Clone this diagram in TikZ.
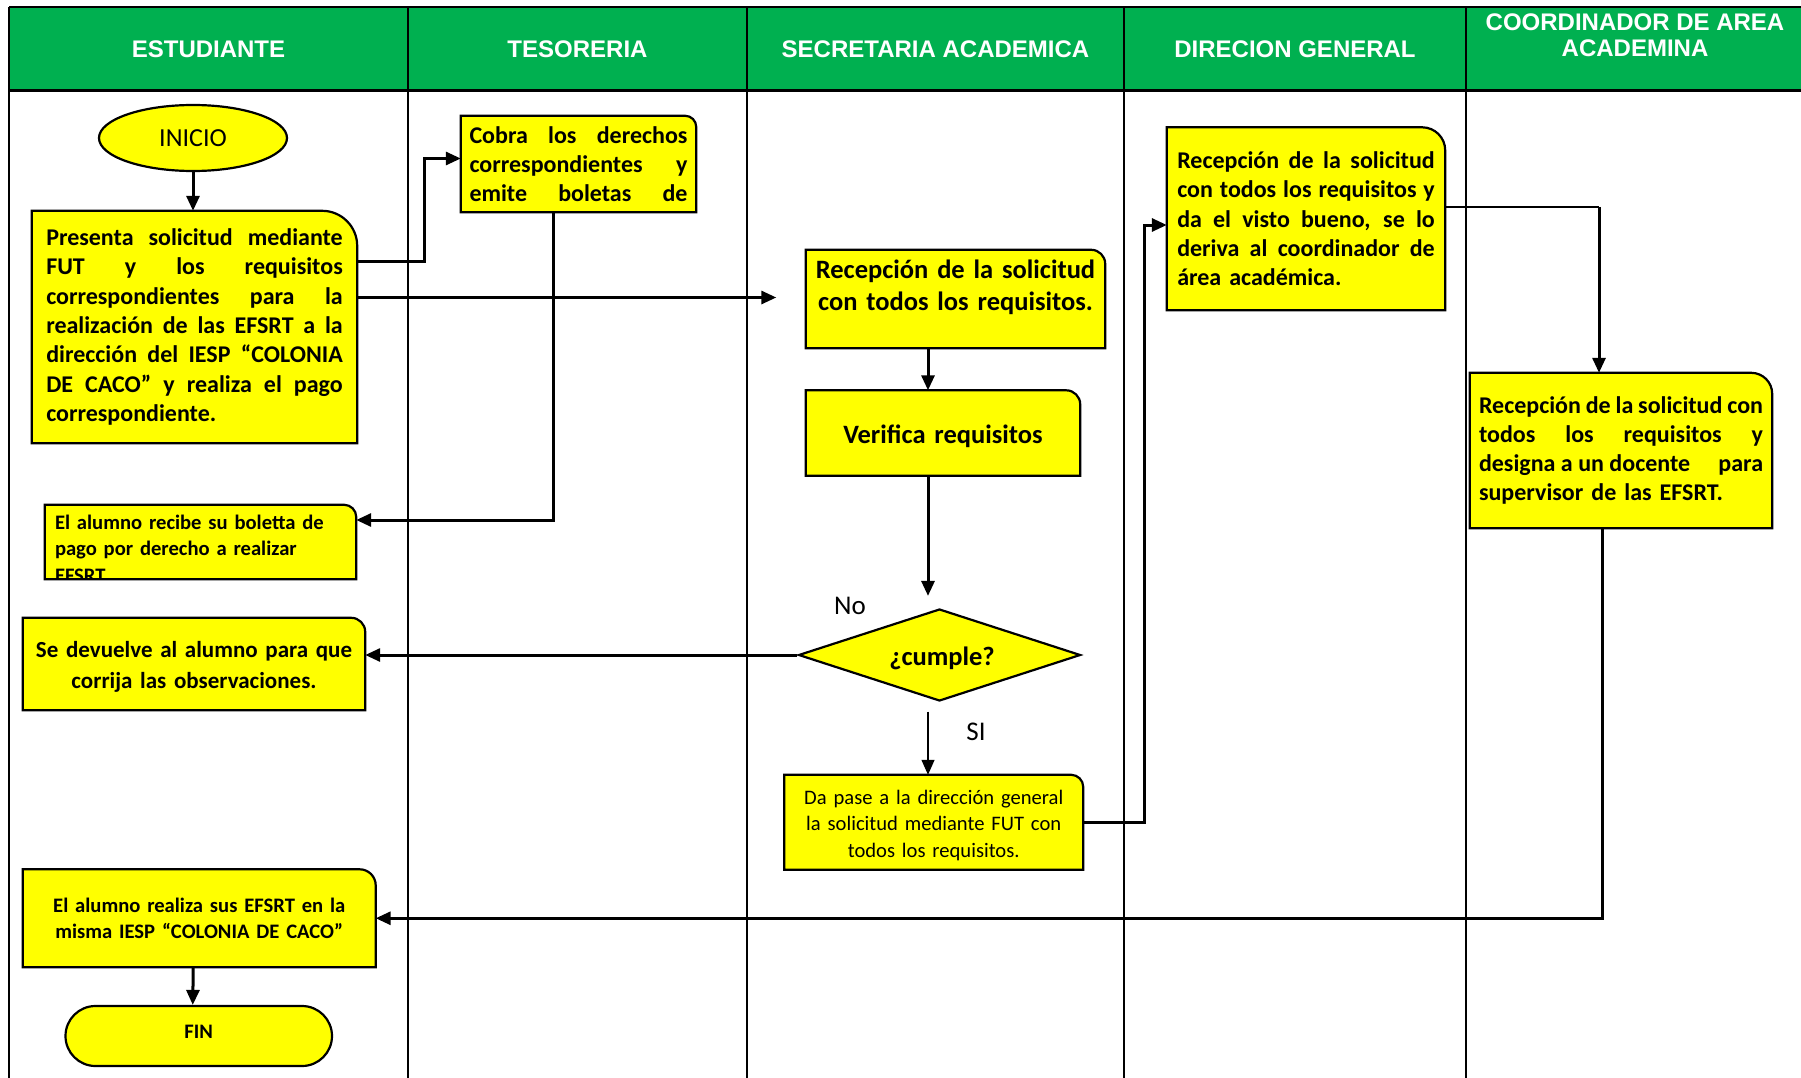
\documentclass[tikz,border=0pt]{standalone}
\usepackage{fontspec}
\setmainfont{Carlito}
\newfontfamily\headfont{Liberation Sans}
\usetikzlibrary{arrows.meta,shapes.geometric,shapes.misc,calc}
\pgfdeclarelayer{bg}
\pgfsetlayers{bg,main}
\setlength\parindent{0pt}
\definecolor{lanegreen}{HTML}{00B050}
\definecolor{boxyellow}{HTML}{FFFF00}
% one line of a justified paragraph, spread to the full text width
\newcommand\jline[1]{{\spaceskip=0.226em plus 1fil minus 0.15em\makebox[\hsize][s]{#1}}}
% move text up or down without changing the size of its box
\newcommand\nudge[2]{\raisebox{#1}[\height][\depth]{#2}}

\begin{document}
\begin{tikzpicture}[x=1pt,y=-1pt,
  lane/.style={line width=1.5pt},
  headtxt/.style={font=\headfont\bfseries\fontsize{24}{26}\selectfont,text=white,align=center},
  box/.style={inner xsep=9pt,inner ysep=0pt},
  just/.style={box,align=left},
  ctr/.style={box,align=center},
  bold24/.style={font=\bfseries\fontsize{24}{29.3}\selectfont},
  bold26/.style={font=\bfseries\fontsize{26.5}{32}\selectfont},
  bold21/.style={font=\bfseries\fontsize{20.6}{26.5}\selectfont},
  reg21/.style={font=\fontsize{20.6}{26.5}\selectfont},
  outline/.style={draw=black,line width=2.2pt,fill=boxyellow},
  term/.style={outline,inner sep=0pt},
  conn/.style={line width=3pt,-{Triangle[length=15pt,width=13pt]}},
  thinconn/.style={line width=1.3pt,-{Triangle[length=15pt,width=13pt]}},
  branch/.style={font=\fontsize{27}{32}\selectfont},
]
\useasboundingbox (0,0) rectangle (1801,1078);

% swimlane frame and header band
\begin{pgfonlayer}{bg}
  \fill[lanegreen] (9,7) rectangle (1801,91);
  \draw[lane] (9,7) -- (1801,7);
  \draw[line width=3pt] (9,91) -- (1801,91);
  \foreach \lx in {9,408,747,1124,1466} \draw[lane] (\lx,7) -- (\lx,1078);
\end{pgfonlayer}

\node[headtxt] (hest) at (208.5,49) {ESTUDIANTE};
\node[headtxt] (htes) at (577.5,49) {TESORERIA};
\node[headtxt] (hsec) at (935.5,49) {SECRETARIA ACADEMICA};
\node[headtxt] (hdir) at (1295,49) {DIRECION GENERAL};
\node[headtxt] (hcoo) at (1635,35) {COORDINADOR DE AREA\\ACADEMINA};

% ESTUDIANTE lane
\node[term,ellipse,minimum width=188pt,minimum height=66pt,
      font=\fontsize{26}{30}\selectfont] (inicio) at (193,138) {INICIO};

\node[just,bold24,text width=296.5pt,minimum width=325pt,minimum height=232pt] (pres) at (194.5,327)
  {\jline{Presenta solicitud mediante}\\
   \jline{FUT y los requisitos}\\
   \jline{correspondientes para la}\\
   \jline{realización de las EFSRT a la}\\
   \jline{dirección del IESP “COLONIA}\\
   \jline{DE CACO” y realiza el pago}\\
   correspondiente.};

\node[box,minimum width=311pt,minimum height=74pt] (recibe) at (200.5,542) {};

\node[ctr,inner xsep=0pt,font=\bfseries\fontsize{23}{31}\selectfont,text width=340pt,
      minimum width=342pt,minimum height=92pt] (devuelve) at (194,664)
  {\nudge{-3pt}{Se devuelve al alumno para que}\\\nudge{-3pt}{corrija las observaciones.}};

\node[ctr,bold21,text width=334pt,minimum width=352.5pt,minimum height=97.5pt] (realiza) at (199.25,918.25)
  {El alumno realiza sus EFSRT en la\\misma IESP “COLONIA DE CACO”};

\node[term,rounded rectangle,minimum width=266.5pt,minimum height=60pt,bold21] (fin) at (198.75,1036)
  {\nudge{4pt}{FIN}};

% TESORERIA lane
\node[just,bold24,inner xsep=8pt,text width=218pt,minimum width=235pt,minimum height=96pt] (cobra) at (578.5,164)
  {\jline{Cobra los derechos}\\
   \jline{correspondientes y}\\
   \jline{emite boletas de}};

% SECRETARIA ACADEMICA lane
\node[box,minimum width=299pt,minimum height=98pt] (recep) at (955.5,299) {};
\node[ctr,bold26,inner sep=0pt,text width=290pt,anchor=north] (recept) at ($(recep.north)+(0,10)$)
  {Recepción de la solicitud\\con todos los requisitos.};

\node[ctr,bold26,text width=256pt,minimum width=274pt,minimum height=85pt] (verif) at (943,433)
  {\nudge{-3pt}{Verifica requisitos}};

\node[term,diamond,aspect=3,minimum width=282pt,minimum height=92pt,bold26] (dec) at (939.5,655)
  {\nudge{-3pt}{\hspace{5pt}¿cumple?}};

\node[ctr,reg21,text width=280pt,minimum width=298.5pt,minimum height=94.5pt] (dapase) at (933.75,822.25)
  {\nudge{-3pt}{Da pase a la dirección general}\\\nudge{-3pt}{la solicitud mediante FUT con}\\\nudge{-3pt}{todos los requisitos.}};

\node[branch] (no) at (850,606) {No};
\node[branch] (si) at (976,732) {SI};

% DIRECION GENERAL lane
\node[just,bold24,text width=257.5pt,minimum width=278pt,minimum height=182.5pt] (dg) at (1306,218.75)
  {\jline{Recepción de la solicitud}\\
   \jline{con todos los requisitos y}\\
   \jline{da el visto bueno, se lo}\\
   \jline{deriva al coordinador de}\\
   área académica.};

% COORDINADOR lane
\node[just,bold24,text width=284pt,minimum width=302pt,minimum height=155pt] (ca) at (1621,450.5)
  {\jline{Recepción de la solicitud con}\\
   \jline{todos los requisitos y}\\
   \jline{designa a un docente\hfill para}\\
   supervisor de las EFSRT.};

% process boxes: yellow with one rounded corner (top right)
\begin{pgfonlayer}{bg}
  \foreach \bx/\rad in {pres/35,cobra/11,recibe/12,devuelve/14,realiza/16,recep/14,verif/14,dapase/12,dg/23,ca/21}
    \draw[outline] (\bx.south west) -- (\bx.north west) -- ($(\bx.north east)+(-\rad,0)$)
      .. controls ($(\bx.north east)+(-0.45*\rad,0)$) and ($(\bx.north east)+(0,0.45*\rad)$)
      .. ($(\bx.north east)+(0,\rad)$) -- (\bx.south east) -- cycle;
\end{pgfonlayer}

% receipt note: its last line runs past the box and is cut off
\begin{scope}
  \clip (recibe.south west) rectangle (recibe.north east);
  \node[bold21,align=left,inner sep=0pt,text width=300pt,anchor=north west] (recibet)
    at ($(recibe.north west)+(10,10)$)
    {El alumno recibe su boletta de\\pago por derecho a realizar\\EFSRT};
\end{scope}

% connectors
\coordinate (sax) at (928,0);
\coordinate (dgca) at (1599,207);

\draw[conn] (inicio.south) -- (inicio.south |- pres.north);
\draw[conn] ($(pres.east)+(0,-66)$) -| ($(cobra.west)+(-36,-5.5)$) -- ($(cobra.west)+(0,-5.5)$);
\draw[conn] ($(pres.east)+(0,-29.5)$) -- ($(recep.west)+(-29.5,-1.5)$);
\draw[conn] ($(cobra.south)+(-25,0)$) |- ($(recibe.east)+(0,-22)$);
\draw[conn] (recep.south -| sax) -- (verif.north -| sax);
\draw[conn] (verif.south -| sax) -- ($(dec.north -| sax)+(0,-12)$);
\draw[conn] (dec.west) -- (dec.west -| devuelve.east);
\draw[thinconn] ($(dec.south -| sax)+(0,9.5)$) -- (dapase.north -| sax);
\draw[conn] (dapase.east) -| ($(dg.west)+(-22,6.25)$) -- ($(dg.west)+(0,6.25)$);
\draw[line width=1.3pt] ($(dg.east)+(0,-11.75)$) -- (dgca);
\draw[conn] (dgca) -- (dgca |- ca.north);
\draw[conn] ($(ca.south)+(-19,0)$) |- (realiza.east);
\draw[conn] ($(realiza.south)+(-6,0)$) -- ($(fin.north)+(-6,0)$);
\end{tikzpicture}
\end{document}
